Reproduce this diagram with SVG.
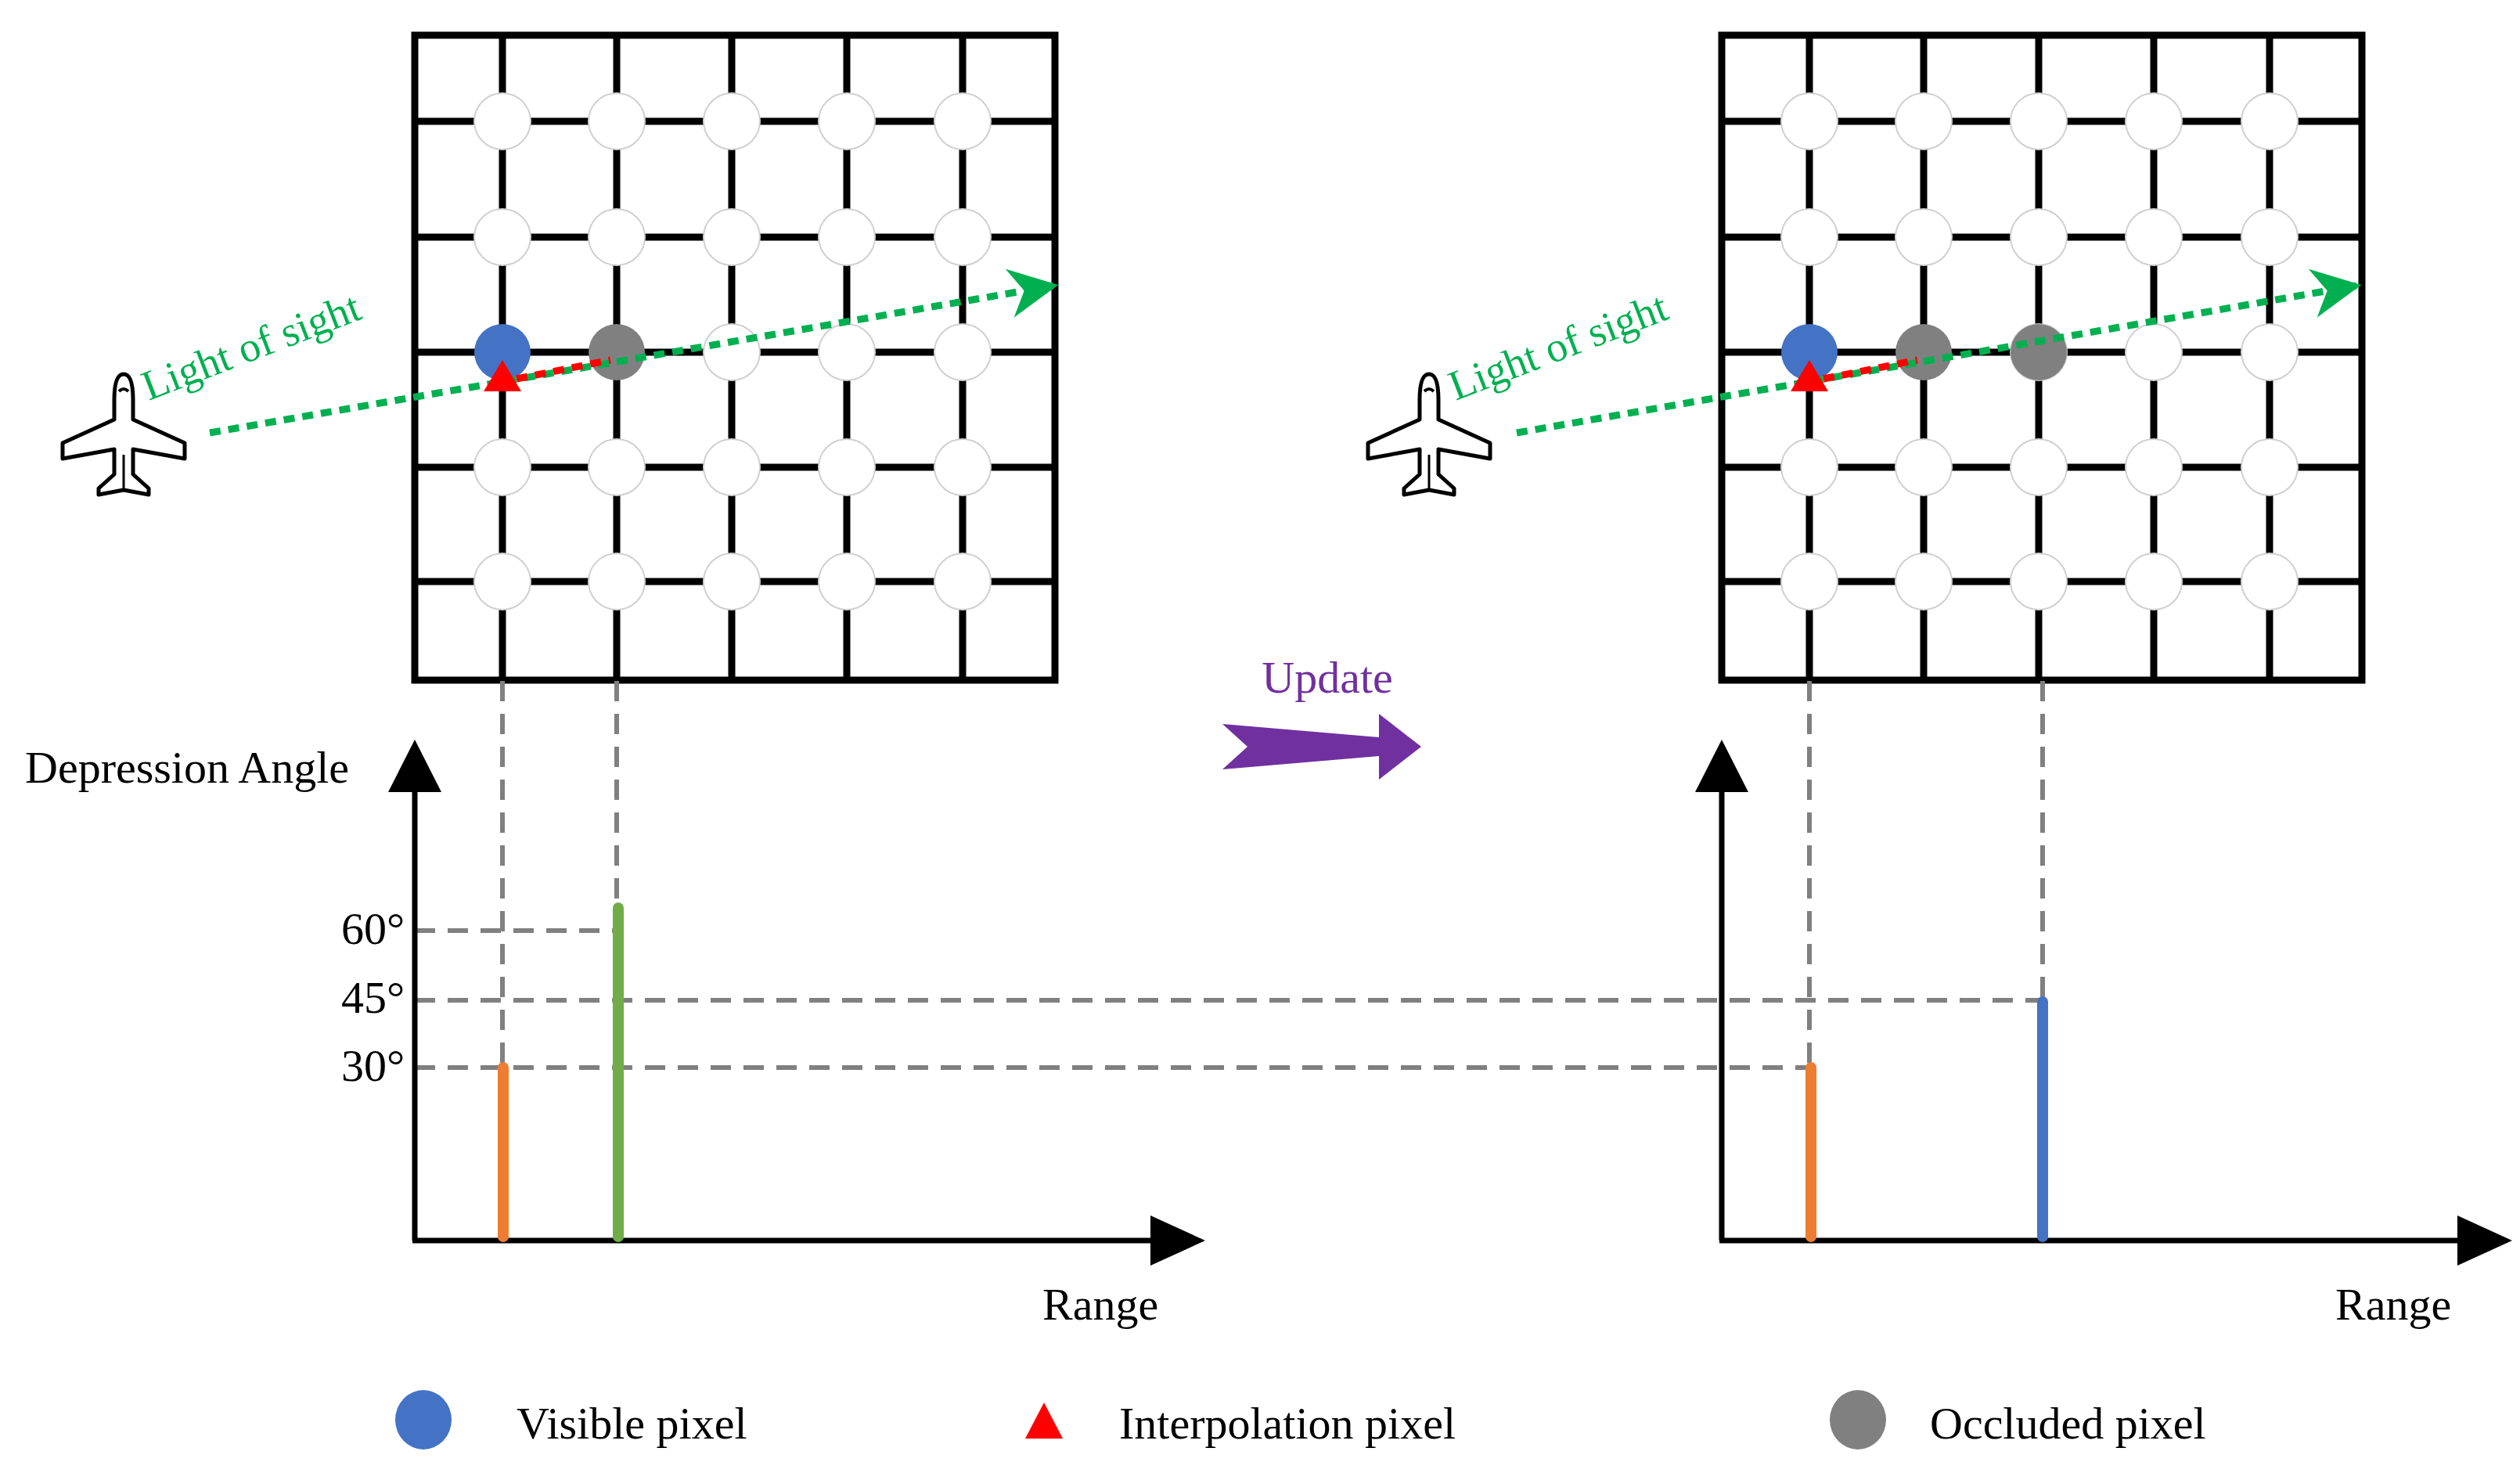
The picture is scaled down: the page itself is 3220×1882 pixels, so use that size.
<svg xmlns="http://www.w3.org/2000/svg" width="3220" height="1882" viewBox="0 0 3220 1882">
<defs>
<style>
.grid{stroke:#000;stroke-width:9;fill:none}
.px{fill:#fff;stroke:#d0d0d0;stroke-width:2}
.vis{fill:#4472c4}
.occ{fill:#808080}
.sight{stroke:#00b050;stroke-width:9;stroke-dasharray:14 10;fill:none}
.interp{stroke:#ff0000;stroke-width:9;stroke-dasharray:14 10;fill:none}
.gd{stroke:#808080;stroke-width:6;stroke-dasharray:26 16;fill:none}
.axis{stroke:#000;stroke-width:7;fill:none}
.bar{stroke-width:14;stroke-linecap:round}
.t{font-family:"Liberation Serif",serif;font-size:58px;fill:#000}
.up{fill:#7030a0}
.los{font-family:"Liberation Serif",serif;font-size:54px;fill:#00b050}
.plane{fill:#fff;stroke:#000;stroke-width:5;stroke-linejoin:round}
</style>
<marker id="ga" viewBox="0 0 10 10" refX="9" refY="5" markerWidth="7" markerHeight="7" markerUnits="strokeWidth" orient="auto"><path d="M0,0L10,5L0,10L3,5z" fill="#00b050"/></marker>
<g id="gridpts">
<g class="grid">
<line x1="112" y1="0" x2="112" y2="824"/><line x1="258" y1="0" x2="258" y2="824"/><line x1="405" y1="0" x2="405" y2="824"/><line x1="552" y1="0" x2="552" y2="824"/><line x1="700" y1="0" x2="700" y2="824"/>
<line x1="0" y1="110" x2="818" y2="110"/><line x1="0" y1="258" x2="818" y2="258"/><line x1="0" y1="405" x2="818" y2="405"/><line x1="0" y1="552" x2="818" y2="552"/><line x1="0" y1="698" x2="818" y2="698"/>
<rect x="0" y="0" width="818" height="824"/>
</g>
<g class="px">
<circle cx="112" cy="110" r="36"/><circle cx="258" cy="110" r="36"/><circle cx="405" cy="110" r="36"/><circle cx="552" cy="110" r="36"/><circle cx="700" cy="110" r="36"/>
<circle cx="112" cy="258" r="36"/><circle cx="258" cy="258" r="36"/><circle cx="405" cy="258" r="36"/><circle cx="552" cy="258" r="36"/><circle cx="700" cy="258" r="36"/>
<circle cx="405" cy="405" r="36"/><circle cx="552" cy="405" r="36"/><circle cx="700" cy="405" r="36"/>
<circle cx="112" cy="552" r="36"/><circle cx="258" cy="552" r="36"/><circle cx="405" cy="552" r="36"/><circle cx="552" cy="552" r="36"/><circle cx="700" cy="552" r="36"/>
<circle cx="112" cy="698" r="36"/><circle cx="258" cy="698" r="36"/><circle cx="405" cy="698" r="36"/><circle cx="552" cy="698" r="36"/><circle cx="700" cy="698" r="36"/>
</g>
</g>
<g id="planeshape">
<path class="plane" d="M0,-78 C-10,-78 -12,-62 -12,-45 L-12,-20 L-78,10 L-78,30 L-12,18 L-12,50 L-32,68 L-32,76 L0,70 L32,76 L32,68 L12,50 L12,18 L78,30 L78,10 L12,-20 L12,-45 C12,-62 10,-78 0,-78Z"/>
<path d="M-6,-56 Q0,-62 6,-56" stroke="#000" stroke-width="4" fill="none"/>
<line x1="0" y1="25" x2="0" y2="68" stroke="#000" stroke-width="3"/>
</g>
</defs>

<g id="left-grid">
<use href="#gridpts" x="530" y="45"/>
<circle class="vis" cx="642" cy="450" r="36"/>
<circle class="occ" cx="788" cy="450" r="36"/>
</g>
<g id="right-grid">
<use href="#gridpts" x="2200" y="45"/>
<circle class="vis" cx="2312" cy="450" r="36"/>
<circle class="occ" cx="2458" cy="450" r="36"/>
<circle class="occ" cx="2605" cy="450" r="36"/>
</g>
<g id="planes">
<use href="#planeshape" x="158" y="556"/>
<use href="#planeshape" x="1826" y="556"/>
</g>

<g id="connectors">
<line class="sight" x1="268" y1="553" x2="1346" y2="365" marker-end="url(#ga)"/>
<line class="interp" x1="660" y1="484" x2="780" y2="460"/>
<line class="sight" x1="1938" y1="553" x2="3011" y2="365" marker-end="url(#ga)"/>
<line class="interp" x1="2330" y1="484" x2="2450" y2="460"/>
<line class="gd" x1="642" y1="870" x2="642" y2="1364"/>
<line class="gd" x1="788" y1="870" x2="788" y2="1160"/>
<line class="gd" x1="2312" y1="870" x2="2312" y2="1364"/>
<line class="gd" x1="2610" y1="870" x2="2610" y2="1278"/>
<line class="gd" x1="530" y1="1189" x2="788" y2="1189"/>
<line class="gd" x1="530" y1="1278" x2="2610" y2="1278"/>
<line class="gd" x1="530" y1="1364" x2="2312" y2="1364"/>
<line class="axis" x1="530" y1="1000" x2="530" y2="1585"/>
<line class="axis" x1="527" y1="1585" x2="1480" y2="1585"/>
<path d="M530,945 L496,1012 L564,1012Z M1540,1585 L1470,1553 L1470,1617Z"/>
<line class="axis" x1="2200" y1="1000" x2="2200" y2="1585"/>
<line class="axis" x1="2197" y1="1585" x2="3150" y2="1585"/>
<path d="M2200,945 L2166,1012 L2234,1012Z M3210,1585 L3140,1553 L3140,1617Z"/>
<line class="bar" stroke="#ed7d31" x1="643" y1="1364" x2="643" y2="1580"/>
<line class="bar" stroke="#70ad47" x1="790" y1="1160" x2="790" y2="1580"/>
<line class="bar" stroke="#ed7d31" x1="2314" y1="1364" x2="2314" y2="1580"/>
<line class="bar" stroke="#4472c4" x1="2610" y1="1280" x2="2610" y2="1580"/>
<path d="M1562,925 L1594,954 L1562,983 L1762,966 L1762,996 L1816,954 L1762,912 L1762,942Z" fill="#7030a0"/>
</g>

<g id="labels">
<text class="los" transform="translate(190,512) rotate(-21)">Light of sight</text>
<text class="los" transform="translate(1860,512) rotate(-21)">Light of sight</text>
<text class="t" x="32" y="1000">Depression Angle</text>
<text class="t" x="436" y="1206">60°</text>
<text class="t" x="436" y="1294">45°</text>
<text class="t" x="436" y="1381">30°</text>
<text class="t" x="1332" y="1686">Range</text>
<text class="t" x="2984" y="1686">Range</text>
<text class="t up" x="1696" y="885" text-anchor="middle">Update</text>
</g>

<g id="markers">
<path d="M642,460 L618,500 L666,500Z" fill="#ff0000"/>
<path d="M2312,460 L2288,500 L2336,500Z" fill="#ff0000"/>
</g>
<g id="legend">
<ellipse class="vis" cx="541" cy="1814" rx="36" ry="38"/>
<text class="t" x="660" y="1838">Visible pixel</text>
<path d="M1334,1792 L1310,1838 L1358,1838Z" fill="#ff0000"/>
<text class="t" x="1430" y="1838">Interpolation pixel</text>
<ellipse class="occ" cx="2374" cy="1814" rx="36" ry="38"/>
<text class="t" x="2466" y="1838">Occluded pixel</text>
</g>
</svg>
